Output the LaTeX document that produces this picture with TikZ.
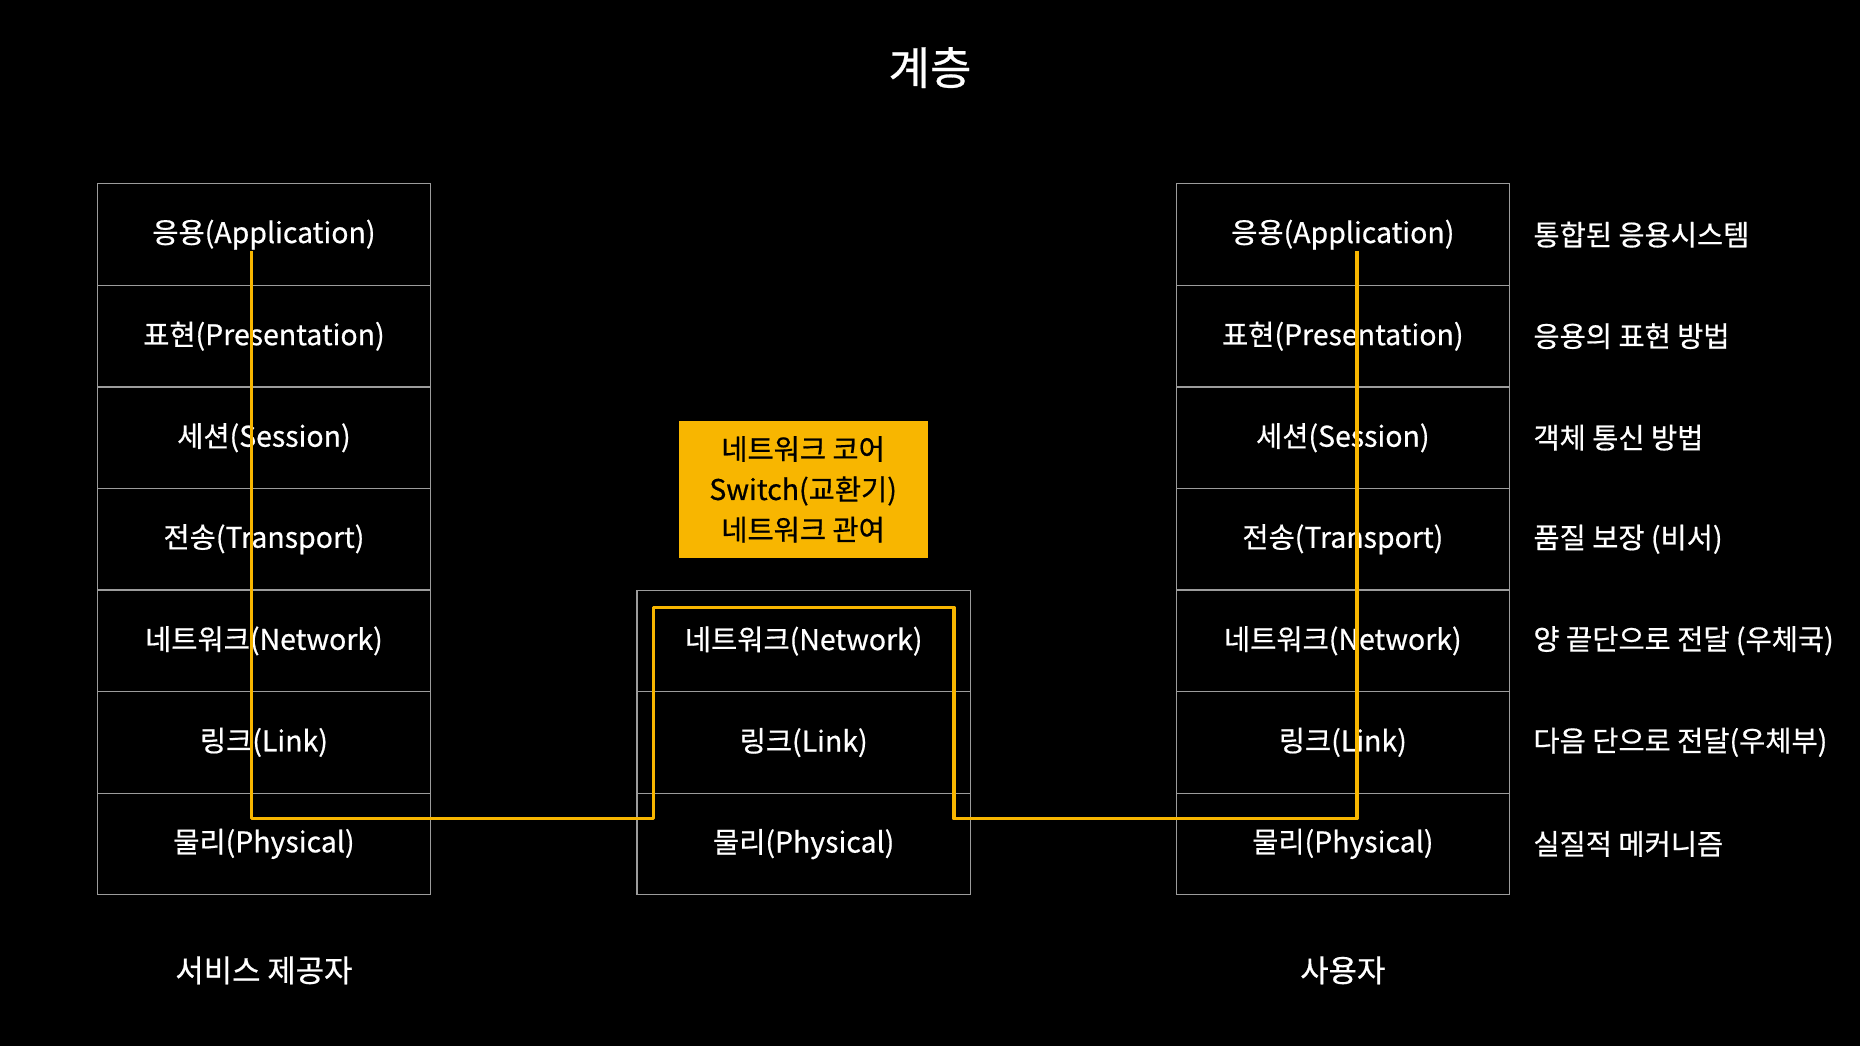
\documentclass[tikz,border=0pt]{standalone}
\usepackage{fontspec}
\setmainfont{Noto Sans CJK KR}[FakeBold=0.6]
\usetikzlibrary{positioning}
\definecolor{edgegray}{HTML}{9C9C9C}
\definecolor{amber}{HTML}{F8B600}

\begin{document}
\begin{tikzpicture}[x=1pt, y=-1pt,
				layer/.style={minimum width=281pt, minimum height=85.6pt,
				inner sep=0pt, outer sep=0pt, draw=edgegray, line width=1pt,
				text=white, font=\fontsize{24}{28}\selectfont},
				note/.style={inner sep=0pt, text=white, font=\fontsize{24}{28}\selectfont},
				signal/.style={draw=amber, line width=3pt, line join=round}]
				\fill[black] (0,0) rectangle (1568,882);
				\useasboundingbox (0,0) rectangle (1568,882);
				\node[text=white, font=\fontsize{38}{44}\selectfont] (title) at (784,57){계층};
				% service provider
				\node[layer] (s1) at (222.5,197.8){응용(Application)};
				\node[layer, below=0pt of s1] (s2){표현(Presentation)};
				\node[layer, below=0pt of s2] (s3){세션(Session)};
				\node[layer, below=0pt of s3] (s4){전송(Transport)};
				\node[layer, below=0pt of s4] (s5){네트워크(Network)};
				\node[layer, below=0pt of s5] (s6){링크(Link)};
				\node[layer, below=0pt of s6] (s7){물리(Physical)};
				% network core
				\node[layer] (n5) at (677.5,540.4){네트워크(Network)};
				\node[layer, below=0pt of n5] (n6){링크(Link)};
				\node[layer, below=0pt of n6] (n7){물리(Physical)};
				\node[fill=amber, minimum width=210pt, minimum height=115pt,
				align=center, font=\fontsize{24}{34}\selectfont] (core) at (677,412.5){네트워크 코어\\Switch(교환기)\\네트워크 관여};
				% user
				\node[layer] (u1) at (1132,197.8){응용(Application)};
				\node[layer, below=0pt of u1] (u2){표현(Presentation)};
				\node[layer, below=0pt of u2] (u3){세션(Session)};
				\node[layer, below=0pt of u3] (u4){전송(Transport)};
				\node[layer, below=0pt of u4] (u5){네트워크(Network)};
				\node[layer, below=0pt of u5] (u6){링크(Link)};
				\node[layer, below=0pt of u6] (u7){물리(Physical)};
				\node[note, right=20pt of u1] (d1){통합된 응용시스템};
				\node[note, right=20pt of u2] (d2){응용의 표현 방법};
				\node[note, right=20pt of u3] (d3){객체 통신 방법};
				\node[note, right=20pt of u4] (d4){품질 보장 (비서)};
				\node[note, right=20pt of u5] (d5){양 끝단으로 전달 (우체국)};
				\node[note, right=20pt of u6] (d6){다음 단으로 전달(우체부)};
				\node[note, right=20pt of u7] (d7){실질적 메커니즘};
				\node[note, font=\fontsize{26}{30}\selectfont] (provider) at (222.5,818){서비스 제공자};
				\node[note, font=\fontsize{26}{30}\selectfont] (user) at (1132,818){사용자};
				% signal path
				\coordinate (src) at (212,212);
				\coordinate (dst) at (1144,212);
				\coordinate (up1) at (551,512);
				\coordinate (up2) at (804,512);
				\draw[signal] (src) -- ++(0,478) -| (up1) -- (up2) -- ++(0,178) -| (dst);
			\end{tikzpicture}
\end{document}
